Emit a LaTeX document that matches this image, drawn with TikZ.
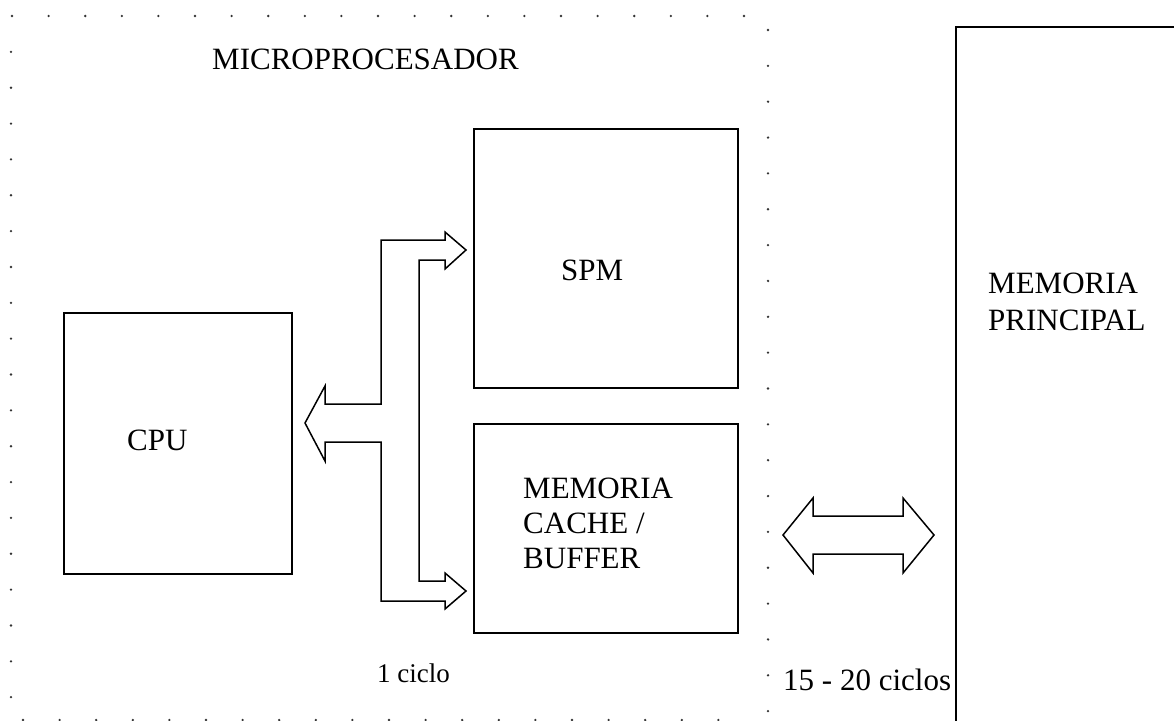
\documentclass[tikz,border=0pt]{standalone}
\usepackage{fontspec}
\setmainfont{Liberation Serif}
\begin{document}
\begin{tikzpicture}[x=1pt,y=-1pt,
  box/.style={draw, line width=1.9pt, inner sep=0pt, anchor=north west},
  blockarrow/.style={draw, line width=1.5pt, line join=miter, fill=white},
  lbl/.style={font=\fontsize{31}{36}\selectfont, inner sep=0pt, anchor=base west},
  small/.style={font=\fontsize{27}{32}\selectfont, inner sep=0pt, anchor=base west},
  dot/.style={fill=black!80}]
\useasboundingbox (0,0) rectangle (1174,720);
\clip (0,0) rectangle (1174,720);

% dotted microprocessor border
\foreach \k in {0,...,20} \fill[dot] ({12+36.6*\k},16) circle (1.3pt);
\foreach \k in {1,...,19} \fill[dot] (11,{16+35.85*\k}) circle (1.3pt);
\foreach \k in {0,...,19} \fill[dot] (768,{30+35.85*\k}) circle (1.3pt);
\foreach \k in {0,...,19} \fill[dot] ({23+36.6*\k},720) circle (1.3pt);

% boxes
\node[box, minimum width=228pt, minimum height=261pt] (cpu) at (63,312) {};
\node[box, minimum width=264pt, minimum height=259pt] (spm) at (473,128) {};
\node[box, minimum width=264pt, minimum height=209pt] (cache) at (473,423) {};
\node[box, line width=2.2pt, minimum width=240pt, minimum height=720pt] (mp) at (955,26) {};

% labels
\node[lbl] (micro) at (212,69) {MICROPROCESADOR};
\node[lbl] (cputxt) at (127,450) {CPU};
\node[lbl] (spmtxt) at (561,280) {SPM};
\node[lbl] (cache1) at (523,498) {MEMORIA};
\node[lbl] (cache2) at (523,533) {CACHE /};
\node[lbl] (cache3) at (523,568) {BUFFER};
\node[lbl] (mp1) at (988,293) {MEMORIA};
\node[lbl] (mp2) at (988,330) {PRINCIPAL};
\node[small] (c1) at (377,682) {1 ciclo};
\node[lbl] (c2) at (783,690) {15 - 20 ciclos};

% bus block arrow (CPU <-> SPM / cache)
\draw[blockarrow] (466,250) -- (445,232) -- (445,240) -- (381,240) -- (381,404)
  -- (325,404) -- (325,386) -- (305,423) -- (325,461) -- (325,442) -- (381,442)
  -- (381,601) -- (445,601) -- (445,609) -- (466,591) -- (445,573) -- (445,581)
  -- (419,581) -- (419,260) -- (445,260) -- (445,269) -- cycle;

% double block arrow (cache <-> main memory)
\draw[blockarrow] (783,535) -- (813,498) -- (813,516) -- (903,516) -- (903,498)
  -- (934,535) -- (903,573) -- (903,554) -- (813,554) -- (813,573) -- cycle;
\end{tikzpicture}
\end{document}
